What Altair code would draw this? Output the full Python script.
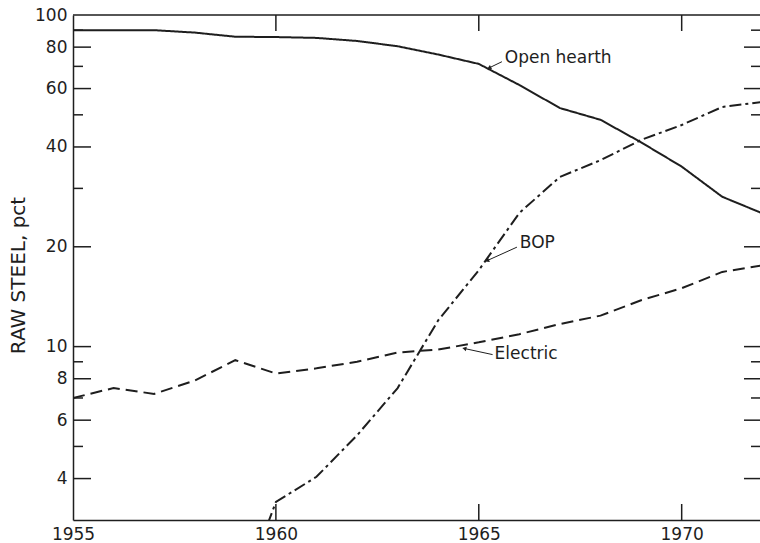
import altair as alt
import pandas as pd

# ---- data ----
years = list(range(1955, 1973))
open_hearth = [90, 90, 90, 88.5, 86, 85.8, 85.3, 83.5, 80.5, 76, 71.2, 61.5, 52.4, 48.3, 41.3, 34.9, 28.3, 25.2]
bop_years = list(range(1959, 1973))
bop = [1.6, 3.4, 4.05, 5.4, 7.5, 12.0, 17.0, 25.3, 32.5, 36.5, 42.0, 46.6, 52.8, 54.7]
electric = [7.0, 7.5, 7.2, 7.9, 9.1, 8.3, 8.6, 9.0, 9.6, 9.8, 10.3, 10.9, 11.7, 12.4, 13.8, 15.0, 16.8, 17.6]

series_names = ["Open hearth", "BOP", "Electric"]
series_dash = [[1, 0], [12, 4, 3, 4], [12, 6]]

y_labels = [100, 80, 60, 40, 20, 10, 8, 6, 4]
y_major_ticks = [80, 60, 40, 20, 10, 8, 6, 4]
y_minor_ticks = [90, 70, 50, 30, 9, 7, 5]
x_labels = [1955, 1960, 1965, 1970]
x_ticks = [1960, 1965, 1970]

ann_text = ["Open hearth", "BOP", "Electric"]
ann_x = [1965.64, 1966.01, 1965.39]
ann_y = [71.8, 19.9, 9.2]
lead_x = [1965.57, 1965.94, 1965.34]
lead_y = [72.3, 19.95, 9.46]
lead_x2 = [1965.27, 1965.22, 1964.66]
lead_y2 = [69.4, 18.2, 9.86]
arrow_angle = [243, 246, 282]

W, H = 687, 505
INK = "#1e1e1e"
FONT = "DejaVu Sans"

rows = []
for y, v in zip(years, open_hearth):
    rows.append({"year": y, "pct": v, "series": "Open hearth"})
for y, v in zip(bop_years, bop):
    rows.append({"year": y, "pct": v, "series": "BOP"})
for y, v in zip(years, electric):
    rows.append({"year": y, "pct": v, "series": "Electric"})
df = pd.DataFrame(rows)

xscale = alt.Scale(domain=[1955, 1971.93], nice=False, zero=False)
yscale = alt.Scale(type="log", domain=[3, 100], nice=False)

lines = alt.Chart(df).mark_line(color=INK, strokeWidth=2, clip=True).encode(
    x=alt.X("year:Q", scale=xscale,
            axis=alt.Axis(values=x_labels, format="d", ticks=False, tickSize=0, grid=False,
                          domainColor=INK, domainWidth=1.5, labelFont=FONT, labelFontSize=17,
                          labelColor=INK, labelPadding=6, labelFlush=False, title="")),
    y=alt.Y("pct:Q", scale=yscale,
            axis=alt.Axis(values=y_labels, format="d", ticks=False, tickSize=0, grid=False,
                          domainColor=INK, domainWidth=1.5, labelFont=FONT, labelFontSize=17,
                          labelColor=INK, labelPadding=6, labelFlush=False,
                          title="RAW STEEL, pct",
                          titleFont=FONT, titleFontSize=20, titleFontWeight="normal",
                          titleColor=INK, titleAngle=270, titleAlign="center",
                          titleBaseline="middle", titleX=-55, titleY=260)),
    strokeDash=alt.StrokeDash("series:N", scale=alt.Scale(domain=series_names, range=series_dash),
                              legend=None),
    detail="series:N",
)

ymaj = pd.DataFrame({"pct": y_major_ticks})
ymin = pd.DataFrame({"pct": y_minor_ticks})
xt = pd.DataFrame({"year": x_ticks})

tick_style = dict(color=INK, strokeWidth=1.5)
left_major = alt.Chart(ymaj).mark_rule(**tick_style).encode(
    y=alt.Y("pct:Q", scale=yscale), x=alt.value(0), x2=alt.value(18))
left_minor = alt.Chart(ymin).mark_rule(**tick_style).encode(
    y=alt.Y("pct:Q", scale=yscale), x=alt.value(0), x2=alt.value(10))
right_major = alt.Chart(ymaj).mark_rule(**tick_style).encode(
    y=alt.Y("pct:Q", scale=yscale), x=alt.value(W - 16), x2=alt.value(W))
right_minor = alt.Chart(ymin).mark_rule(**tick_style).encode(
    y=alt.Y("pct:Q", scale=yscale), x=alt.value(W - 9), x2=alt.value(W))
bottom_ticks = alt.Chart(xt).mark_rule(**tick_style).encode(
    x=alt.X("year:Q", scale=xscale), y=alt.value(H), y2=alt.value(H - 16))
top_ticks = alt.Chart(xt).mark_rule(**tick_style).encode(
    x=alt.X("year:Q", scale=xscale), y=alt.value(0), y2=alt.value(16))
top_line = alt.Chart(pd.DataFrame({"a": [0]})).mark_rule(color=INK, strokeWidth=1.5).encode(
    x=alt.value(0), x2=alt.value(W), y=alt.value(0))

ann = pd.DataFrame({"text": ann_text, "year": ann_x, "pct": ann_y,
                    "lx": lead_x, "ly": lead_y, "lx2": lead_x2, "ly2": lead_y2,
                    "ang": arrow_angle})
labels = alt.Chart(ann).mark_text(align="left", baseline="alphabetic", font=FONT,
                                  fontSize=17, color=INK).encode(
    x=alt.X("year:Q", scale=xscale), y=alt.Y("pct:Q", scale=yscale),
    text="text:N")
leaders = alt.Chart(ann).mark_rule(color=INK, strokeWidth=1).encode(
    x=alt.X("lx:Q", scale=xscale), y=alt.Y("ly:Q", scale=yscale),
    x2="lx2:Q", y2="ly2:Q")
arrows = alt.Chart(ann).mark_point(shape="triangle", filled=True, size=22, color=INK,
                                   opacity=1).encode(
    x=alt.X("lx2:Q", scale=xscale), y=alt.Y("ly2:Q", scale=yscale),
    angle=alt.Angle("ang:Q", scale=None))

chart = alt.layer(
    lines, left_major, left_minor, right_major, right_minor, bottom_ticks, top_ticks,
    top_line, leaders, arrows, labels
).properties(
    width=W, height=H,
    autosize=alt.AutoSizeParams(type="none"),
    padding={"left": 73, "top": 15, "right": 0, "bottom": 23},
    background="white",
).configure_view(strokeWidth=0)

chart.save("out.html", embed_options={"renderer": "svg", "actions": False})
